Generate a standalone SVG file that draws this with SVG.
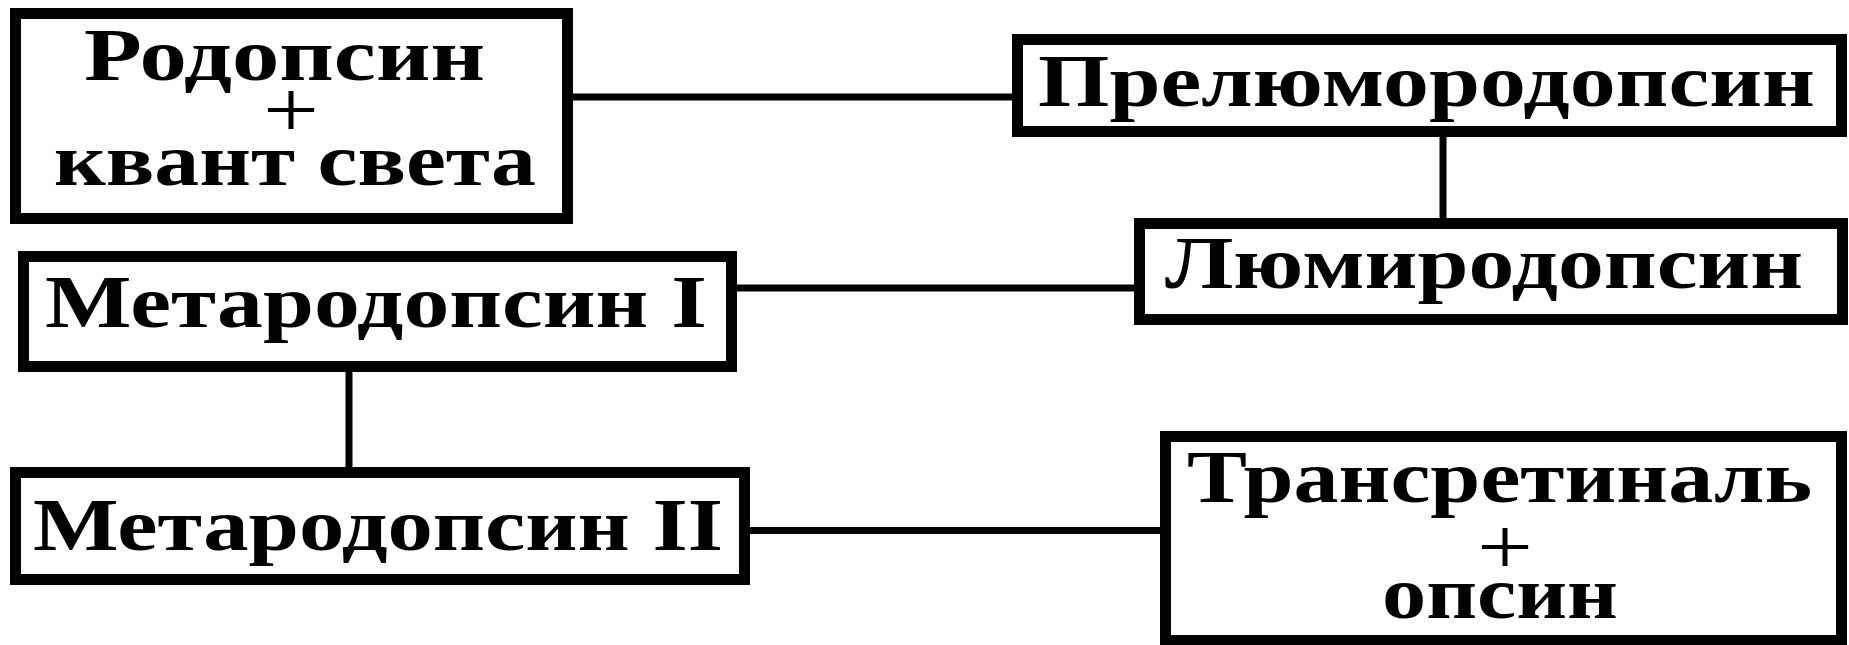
<svg xmlns="http://www.w3.org/2000/svg" width="1849" height="645" viewBox="0 0 1849 645">
<style>
.box{fill:#fff;stroke:#000;stroke-width:11}
.t{font-family:"Liberation Serif","Times New Roman",serif;font-weight:bold;font-size:75px;fill:#000}
.p{font-family:"Liberation Serif","Times New Roman",serif;font-weight:normal;font-size:80px;fill:#000}
.c{stroke:#000;stroke-width:7;fill:none}
</style>
<rect width="1849" height="645" fill="#fff"/>
<g id="connectors">
<line class="c" x1="573" y1="97" x2="1012" y2="97"/>
<line class="c" x1="1443" y1="137" x2="1443" y2="218"/>
<line class="c" x1="737" y1="288" x2="1134" y2="288"/>
<line class="c" x1="349" y1="372" x2="349" y2="467"/>
<line class="c" x1="750" y1="530.5" x2="1160" y2="530.5"/>
</g>
<g id="rhodopsin">
<rect class="box" x="15.5" y="13.5" width="552" height="205"/>
<text class="t" x="84" y="80" textLength="401" lengthAdjust="spacingAndGlyphs">Родопсин</text>
<text class="p" x="263" y="137" textLength="56" lengthAdjust="spacingAndGlyphs">+</text>
<text class="t" x="54" y="185" textLength="482" lengthAdjust="spacingAndGlyphs">квант света</text>
</g>
<g id="prelumirhodopsin">
<rect class="box" x="1017.5" y="39.5" width="824" height="92"/>
<text class="t" x="1038" y="106" textLength="777" lengthAdjust="spacingAndGlyphs">Прелюмородопсин</text>
</g>
<g id="lumirhodopsin">
<rect class="box" x="1139.5" y="223.5" width="703" height="96"/>
<text class="t" x="1165" y="288" textLength="638" lengthAdjust="spacingAndGlyphs">Люмиродопсин</text>
</g>
<g id="metarhodopsin1">
<rect class="box" x="23.5" y="256.5" width="708" height="110"/>
<text class="t" x="45" y="327" textLength="662" lengthAdjust="spacingAndGlyphs">Метародопсин I</text>
</g>
<g id="metarhodopsin2">
<rect class="box" x="15.5" y="472.5" width="729" height="107"/>
<text class="t" x="33" y="550" textLength="690" lengthAdjust="spacingAndGlyphs">Метародопсин II</text>
</g>
<g id="transretinal">
<rect class="box" x="1165.5" y="436.5" width="676" height="204"/>
<text class="t" x="1187" y="502" textLength="625" lengthAdjust="spacingAndGlyphs">Трансретиналь</text>
<text class="p" x="1477" y="574" textLength="56" lengthAdjust="spacingAndGlyphs">+</text>
<text class="t" x="1382" y="618" textLength="236" lengthAdjust="spacingAndGlyphs">опсин</text>
</g>
</svg>
